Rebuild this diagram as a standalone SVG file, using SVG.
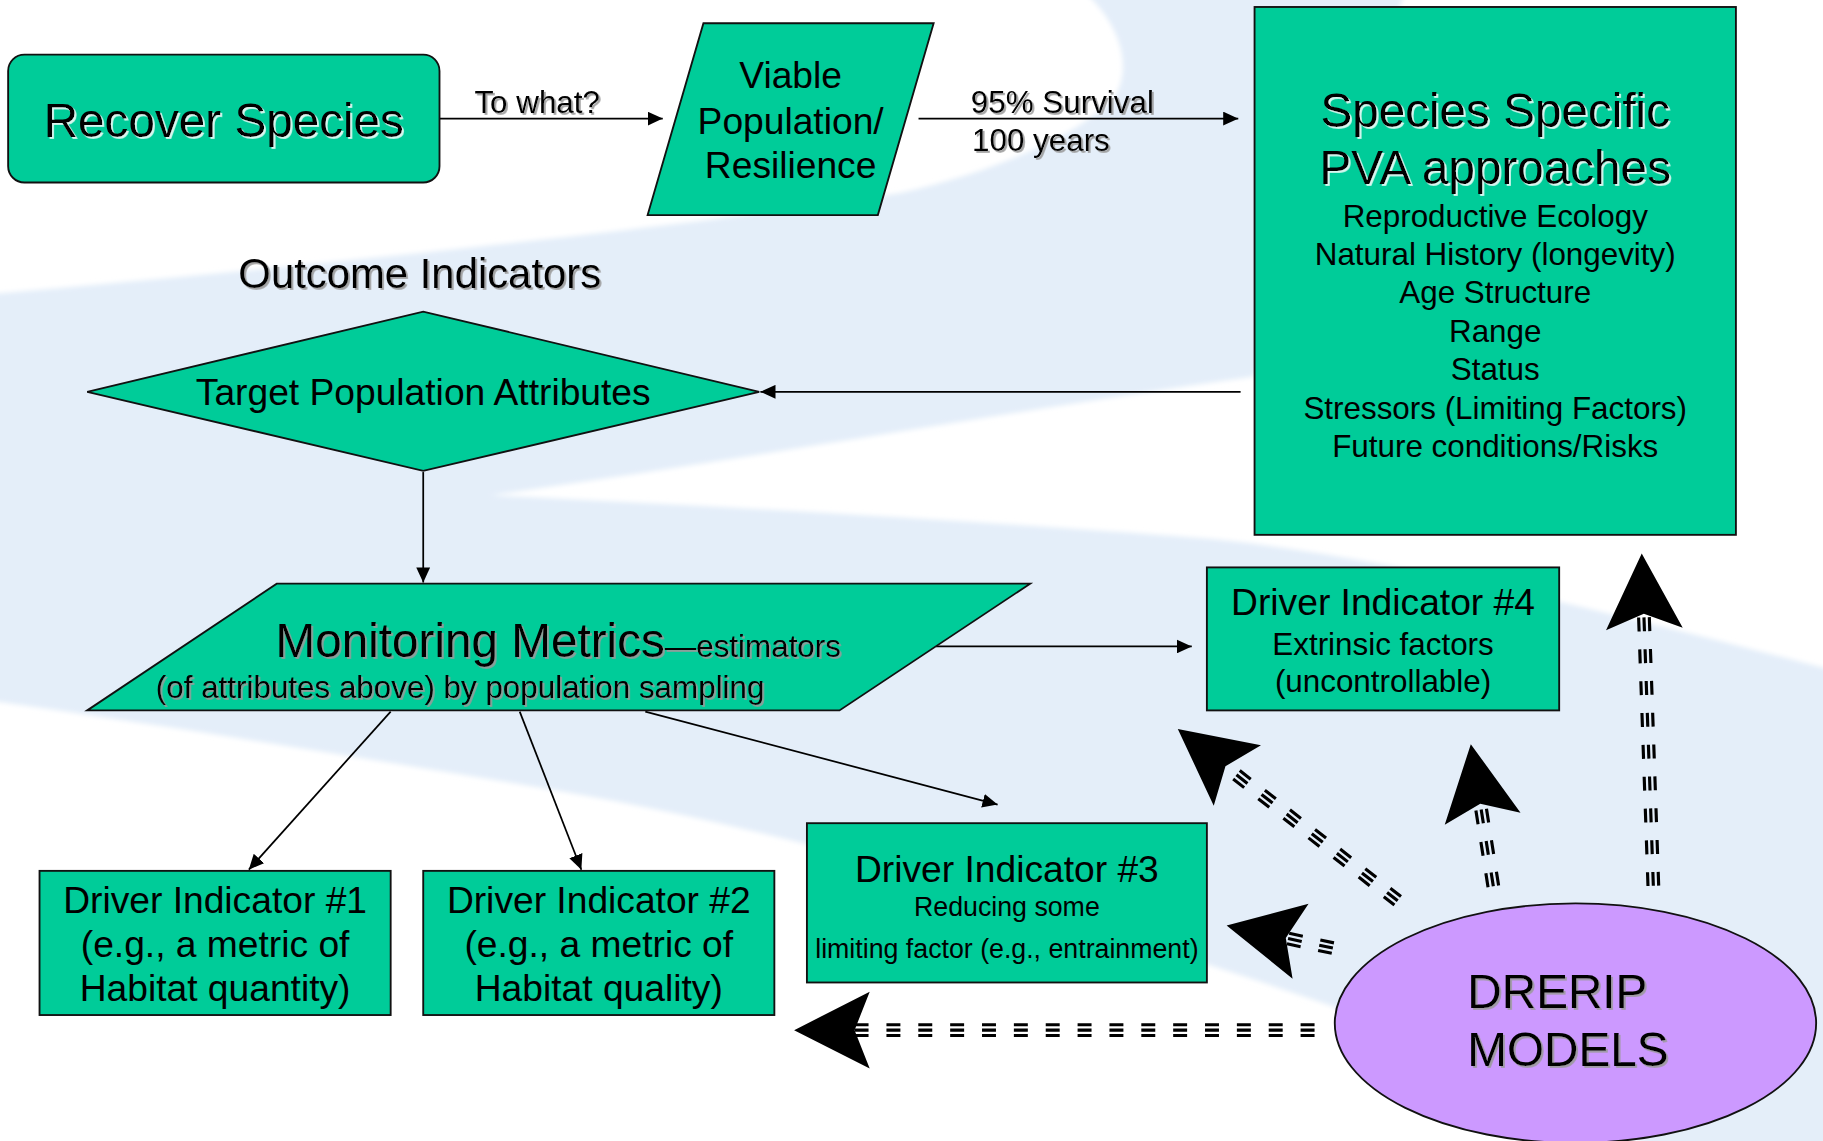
<svg xmlns="http://www.w3.org/2000/svg" xmlns:xlink="http://www.w3.org/1999/xlink" width="1823" height="1141" viewBox="0 0 1823 1141">
<defs>
<style>
.t{font-family:"Liberation Sans",Arial,"Helvetica",sans-serif;fill:#000}
.m{text-anchor:middle}
.box{fill:#00CC99;stroke:#111;stroke-width:1.6}
.con{fill:none;stroke:#000;stroke-width:1.5}
.dl{fill:none;stroke:#000;stroke-width:2.7;stroke-dasharray:12 15.4}
</style>
<marker id="ar" markerUnits="userSpaceOnUse" markerWidth="13" markerHeight="12" refX="13" refY="6" orient="auto">
<path d="M0,0 L13,6 L0,12 Z" fill="#000"/>
</marker>
<path id="bh" d="M0,0 L65,-33 L52,0 L65,33 Z" fill="#000"/>
<filter id="shw" x="-10%" y="-30%" width="120%" height="160%">
<feDropShadow dx="1.6" dy="1.6" stdDeviation="0" flood-color="#ffffff" flood-opacity="0.85"/>
</filter>
<filter id="shg" x="-10%" y="-30%" width="120%" height="160%">
<feDropShadow dx="1.6" dy="1.6" stdDeviation="0" flood-color="#9a9a9a" flood-opacity="0.9"/>
</filter>
<filter id="soft" x="-5%" y="-5%" width="110%" height="110%">
<feGaussianBlur stdDeviation="2.5"/>
</filter>
</defs>
<rect width="1823" height="1141" fill="#ffffff"/>
<g transform="scale(1.1627)">
<g id="background" filter="url(#soft)">
<path d="M-20,254 C300,226 600,194 774,166 C846,150 918,122 957,86 C975,60 965,20 929,-10 L1210,-10 L1078,324 C890,350 656,393 422,426 C640,436 900,452 1047,464 C1200,480 1400,530 1590,580 L1590,1000 L1445,1000 C1300,918 1180,875 1040,830 C900,784 700,718 480,680 C300,650 150,625 -20,601 Z" fill="#E4EEF9"/>
</g>

<g id="connectors">
<line class="con" x1="378" y1="102" x2="570" y2="102" marker-end="url(#ar)"/>
<text class="t" x="408" y="97" font-size="27" filter="url(#shg)">To what?</text>
<line class="con" x1="790" y1="102" x2="1065" y2="102" marker-end="url(#ar)"/>
<text class="t" x="835" y="97" font-size="27" filter="url(#shg)">95% Survival</text>
<text class="t" x="836" y="130" font-size="27" filter="url(#shg)">100 years</text>
<line class="con" x1="1067" y1="337" x2="654" y2="337" marker-end="url(#ar)"/>
<line class="con" x1="364" y1="406" x2="364" y2="501" marker-end="url(#ar)"/>
<line class="con" x1="805" y1="556" x2="1025" y2="556" marker-end="url(#ar)"/>
<line class="con" x1="336" y1="612" x2="214" y2="748" marker-end="url(#ar)"/>
<line class="con" x1="447" y1="612" x2="500" y2="748" marker-end="url(#ar)"/>
<line class="con" x1="555" y1="612" x2="858" y2="692" marker-end="url(#ar)"/>

<g transform="translate(683,886)">
<use xlink:href="#bh"/>
<path class="dl" d="M52,-4.6 H448 M52,0 H448 M52,4.6 H448"/>
</g>
<g transform="translate(1055,796) rotate(12)">
<use xlink:href="#bh"/>
<path class="dl" d="M54,-4.6 H95 M54,0 H95 M54,4.6 H95"/>
</g>
<g transform="translate(1013,627) rotate(38)">
<use xlink:href="#bh"/>
<path class="dl" d="M64,-4.6 H240 M64,0 H240 M64,4.6 H240"/>
</g>
<g transform="translate(1265,640) rotate(81)">
<use xlink:href="#bh"/>
<path class="dl" d="M57,-4.6 H124 M57,0 H124 M57,4.6 H124"/>
</g>
<g transform="translate(1412,476) rotate(88)">
<use xlink:href="#bh"/>
<path class="dl" d="M55,-4.6 H286 M55,0 H286 M55,4.6 H286"/>
</g>
</g>

<g id="recover-species">
<rect class="box" x="7" y="47" width="371" height="110" rx="14"/>
<text class="t m" x="192.5" y="118" font-size="41" filter="url(#shw)">Recover Species</text>
</g>

<g id="viable-population">
<polygon class="box" points="605,20 803,20 755,185 557,185"/>
<text class="t m" font-size="32"><tspan x="680" y="76">Viable</tspan><tspan x="680" y="115">Population/</tspan><tspan x="680" y="153">Resilience</tspan></text>
</g>

<g id="pva-approaches">
<rect class="box" x="1079" y="6" width="414" height="454"/>
<text class="t m" font-size="41" filter="url(#shw)"><tspan x="1286" y="109">Species Specific</tspan><tspan x="1286" y="158">PVA approaches</tspan></text>
<text class="t m" font-size="27"><tspan x="1286" y="195">Reproductive Ecology</tspan><tspan x="1286" y="228">Natural History (longevity)</tspan><tspan x="1286" y="261">Age Structure</tspan><tspan x="1286" y="294">Range</tspan><tspan x="1286" y="327">Status</tspan><tspan x="1286" y="360">Stressors (Limiting Factors)</tspan><tspan x="1286" y="393">Future conditions/Risks</tspan></text>
</g>

<g id="outcome-indicators">
<text class="t" x="205" y="248" font-size="36" filter="url(#shg)">Outcome Indicators</text>
</g>

<g id="target-population">
<polygon class="box" points="75,337 364,268 653,337 364,405"/>
<text class="t m" x="364" y="348" font-size="32">Target Population Attributes</text>
</g>

<g id="monitoring-metrics">
<polygon class="box" points="238,502 886,502 722,611 75,611"/>
<text class="t" x="237" y="565" filter="url(#shg)"><tspan font-size="41">Monitoring Metrics</tspan><tspan font-size="27">—estimators</tspan></text>
<text class="t" x="134" y="600" font-size="27" filter="url(#shg)">(of attributes above) by population sampling</text>
</g>

<g id="driver-4">
<rect class="box" x="1038" y="488" width="303" height="123"/>
<text class="t m" x="1189.5" y="529" font-size="32">Driver Indicator #4</text>
<text class="t m" font-size="27"><tspan x="1189.5" y="563">Extrinsic factors</tspan><tspan x="1189.5" y="595">(uncontrollable)</tspan></text>
</g>

<g id="driver-1">
<rect class="box" x="34" y="749" width="302" height="124"/>
<text class="t m" font-size="32"><tspan x="185" y="785">Driver Indicator #1</tspan><tspan x="185" y="823">(e.g., a metric of</tspan><tspan x="185" y="861">Habitat quantity)</tspan></text>
</g>

<g id="driver-2">
<rect class="box" x="364" y="749" width="302" height="124"/>
<text class="t m" font-size="32"><tspan x="515" y="785">Driver Indicator #2</tspan><tspan x="515" y="823">(e.g., a metric of</tspan><tspan x="515" y="861">Habitat quality)</tspan></text>
</g>

<g id="driver-3">
<rect class="box" x="694" y="708" width="344" height="137"/>
<text class="t m" x="866" y="759" font-size="32">Driver Indicator #3</text>
<text class="t m" font-size="23"><tspan x="866" y="788">Reducing some</tspan><tspan x="866" y="824">limiting factor (e.g., entrainment)</tspan></text>
</g>

<g id="drerip-models">
<ellipse cx="1355" cy="880" rx="207" ry="103" fill="#CC99FF" stroke="#111" stroke-width="1.6"/>
<text class="t" font-size="41" filter="url(#shg)"><tspan x="1262" y="867">DRERIP</tspan><tspan x="1262" y="917">MODELS</tspan></text>
</g>
</g>
</svg>
